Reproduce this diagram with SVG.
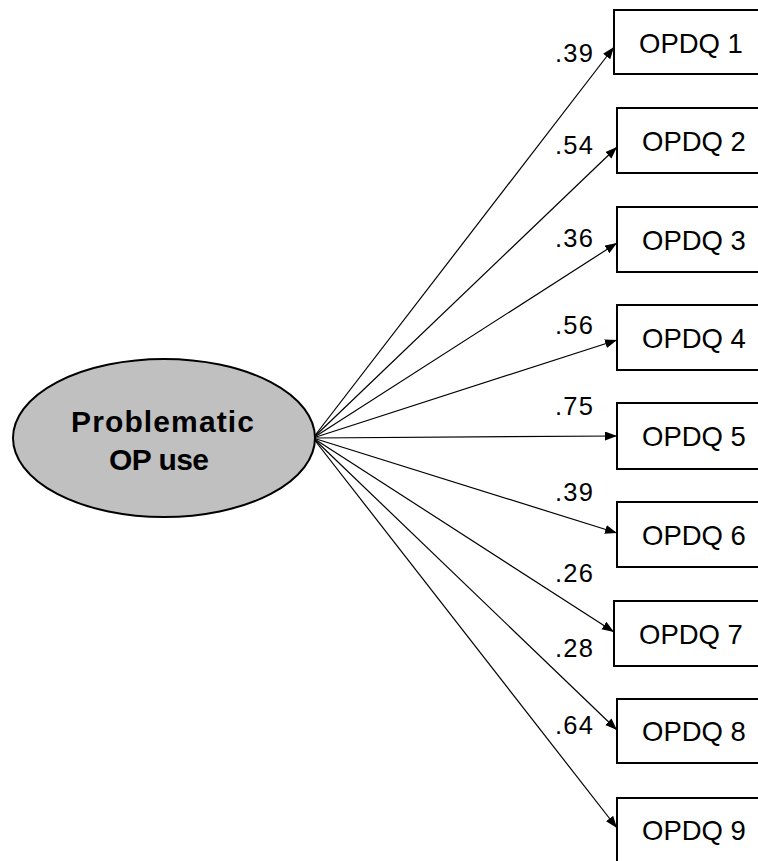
<svg xmlns="http://www.w3.org/2000/svg" width="758" height="861" viewBox="0 0 758 861">
<style>
.box{fill:#fff;stroke:#000;stroke-width:2}
.bt{font-family:"Liberation Sans",Arial,sans-serif;font-size:27.5px;fill:#000}
.lb{font-family:"Liberation Sans",Arial,sans-serif;font-size:25.5px;fill:#000}
.lt{font-family:"Liberation Sans",Arial,sans-serif;font-size:30px;font-weight:bold;fill:#000}
.ed{stroke:#000;stroke-width:1.2;fill:none;marker-end:url(#ah)}
</style>
<defs>
<marker id="ah" markerUnits="userSpaceOnUse" markerWidth="13" markerHeight="10" refX="12" refY="4.5" orient="auto">
<path d="M0,0 L12,4.5 L0,9 z" fill="#000"/>
</marker>
</defs>
<rect width="758" height="861" fill="#fff"/>
<g id="connectors">
<line class="ed" x1="313" y1="438" x2="614" y2="47"/>
<line class="ed" x1="313" y1="438" x2="617" y2="147"/>
<line class="ed" x1="313" y1="438" x2="617" y2="243"/>
<line class="ed" x1="313" y1="438" x2="617" y2="340"/>
<line class="ed" x1="313" y1="438" x2="617" y2="436"/>
<line class="ed" x1="313" y1="438" x2="617" y2="533"/>
<line class="ed" x1="313" y1="438" x2="614" y2="632"/>
<line class="ed" x1="313" y1="438" x2="617" y2="730"/>
<line class="ed" x1="313" y1="438" x2="617" y2="828"/>
</g>
<g id="labels">
<text class="lb" x="555" y="62" textLength="38">.39</text>
<text class="lb" x="555" y="154" textLength="38">.54</text>
<text class="lb" x="555" y="247" textLength="38">.36</text>
<text class="lb" x="555" y="334" textLength="38">.56</text>
<text class="lb" x="555" y="415" textLength="38">.75</text>
<text class="lb" x="555" y="501" textLength="38">.39</text>
<text class="lb" x="555" y="582" textLength="38">.26</text>
<text class="lb" x="555" y="657" textLength="38">.28</text>
<text class="lb" x="555" y="734" textLength="38">.64</text>
</g>
<g id="latent">
<ellipse cx="164" cy="438" rx="151" ry="79" fill="#c0c0c0" stroke="#000" stroke-width="2"/>
<text class="lt" x="71" y="432" textLength="183">Problematic</text>
<text class="lt" x="109" y="470" textLength="100">OP use</text>
</g>
<g id="opdq1"><rect class="box" x="614" y="10" width="160" height="64"/><text class="bt" x="639" y="53">OPDQ 1</text></g>
<g id="opdq2"><rect class="box" x="617" y="108" width="160" height="65"/><text class="bt" x="642" y="151">OPDQ 2</text></g>
<g id="opdq3"><rect class="box" x="617" y="207" width="160" height="65"/><text class="bt" x="642" y="250">OPDQ 3</text></g>
<g id="opdq4"><rect class="box" x="617" y="305" width="160" height="65"/><text class="bt" x="642" y="348">OPDQ 4</text></g>
<g id="opdq5"><rect class="box" x="617" y="403" width="160" height="66"/><text class="bt" x="642" y="446">OPDQ 5</text></g>
<g id="opdq6"><rect class="box" x="617" y="502" width="160" height="65"/><text class="bt" x="642" y="545">OPDQ 6</text></g>
<g id="opdq7"><rect class="box" x="614" y="601" width="160" height="65"/><text class="bt" x="639" y="644">OPDQ 7</text></g>
<g id="opdq8"><rect class="box" x="617" y="699" width="160" height="64"/><text class="bt" x="642" y="741">OPDQ 8</text></g>
<g id="opdq9"><rect class="box" x="617" y="798" width="160" height="80"/><text class="bt" x="642" y="840">OPDQ 9</text></g>
</svg>
